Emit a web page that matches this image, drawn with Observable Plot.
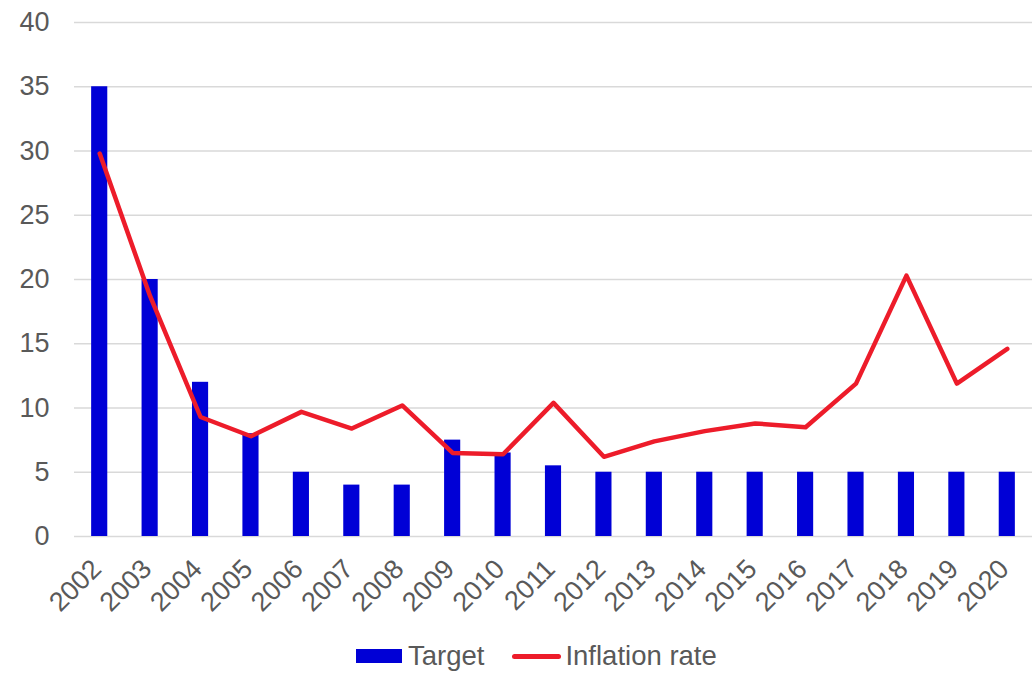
<!DOCTYPE html>
<html>
<head>
<meta charset="utf-8">
<script src="https://cdn.jsdelivr.net/npm/d3@7"></script>
<script src="https://cdn.jsdelivr.net/npm/@observablehq/plot@0.6"></script>
<style>
  body { margin: 0; background: #fff; font-family: "Liberation Sans", Arial, sans-serif; }
  #wrap { position: relative; width: 1034px; height: 673px; }
  #legend { position: absolute; left: 356px; top: 638px; height: 36px; display: flex; align-items: center; font-size: 27.5px; color: #595959; }
  .sw-bar { display: inline-block; width: 46px; height: 14px; background: #0000d6; margin-right: 6px; }
  .sw-line { display: inline-block; width: 49px; height: 5px; background: #ed1c2a; border-radius: 3px; margin-right: 4px; margin-left: 28px; }
</style>
</head>
<body>
<div id="wrap">
  <div id="chart"></div>
  <div id="legend">
    <span class="sw-bar"></span><span>Target</span>
    <span class="sw-line"></span><span>Inflation rate</span>
  </div>
</div>
<script>
const years = ["2002","2003","2004","2005","2006","2007","2008","2009","2010","2011",
               "2012","2013","2014","2015","2016","2017","2018","2019","2020"];
const target = [35, 20, 12, 8, 5, 4, 4, 7.5, 6.5, 5.5, 5, 5, 5, 5, 5, 5, 5, 5, 5];
const inflation = [29.8, 18.7, 9.3, 7.8, 9.7, 8.4, 10.2, 6.5, 6.4, 10.4,
                   6.2, 7.4, 8.2, 8.8, 8.5, 11.9, 20.3, 11.9, 14.6];
const yTicks = [0, 5, 10, 15, 20, 25, 30, 35, 40];

const rows = years.map((y, i) => ({year: y, target: target[i], inflation: inflation[i]}));

const chart = Plot.plot({
  width: 1034,
  height: 625,
  marginLeft: 74,
  marginRight: 2,
  marginTop: 22,
  marginBottom: 89,
  style: {fontFamily: "'Liberation Sans', Arial, sans-serif", fontSize: "27px", color: "#595959", background: "#fff"},
  x: {type: "band", domain: years, paddingInner: 0.68, paddingOuter: 0.34, round: false, label: null},
  y: {domain: [0, 40], ticks: yTicks, label: null},
  marks: [
    Plot.gridY(yTicks, {stroke: "#d9d9d9", strokeOpacity: 1, strokeWidth: 1.5}),
    Plot.barY(rows, {x: "year", y: "target", fill: "#0000d6"}),
    Plot.line(rows, {x: "year", y: "inflation", stroke: "#ed1c2a", strokeWidth: 4.5,
                     strokeLinejoin: "round", strokeLinecap: "round"}),
    Plot.axisY(yTicks, {tickSize: 0, tickPadding: 25, fontSize: 27, fill: "#595959", label: null}),
    Plot.axisX({tickSize: 0, tickRotate: -45, tickPadding: 28, dx: -3, fontSize: 27, fill: "#595959", label: null})
  ]
});
document.getElementById("chart").appendChild(chart);
</script>
</body>
</html>
